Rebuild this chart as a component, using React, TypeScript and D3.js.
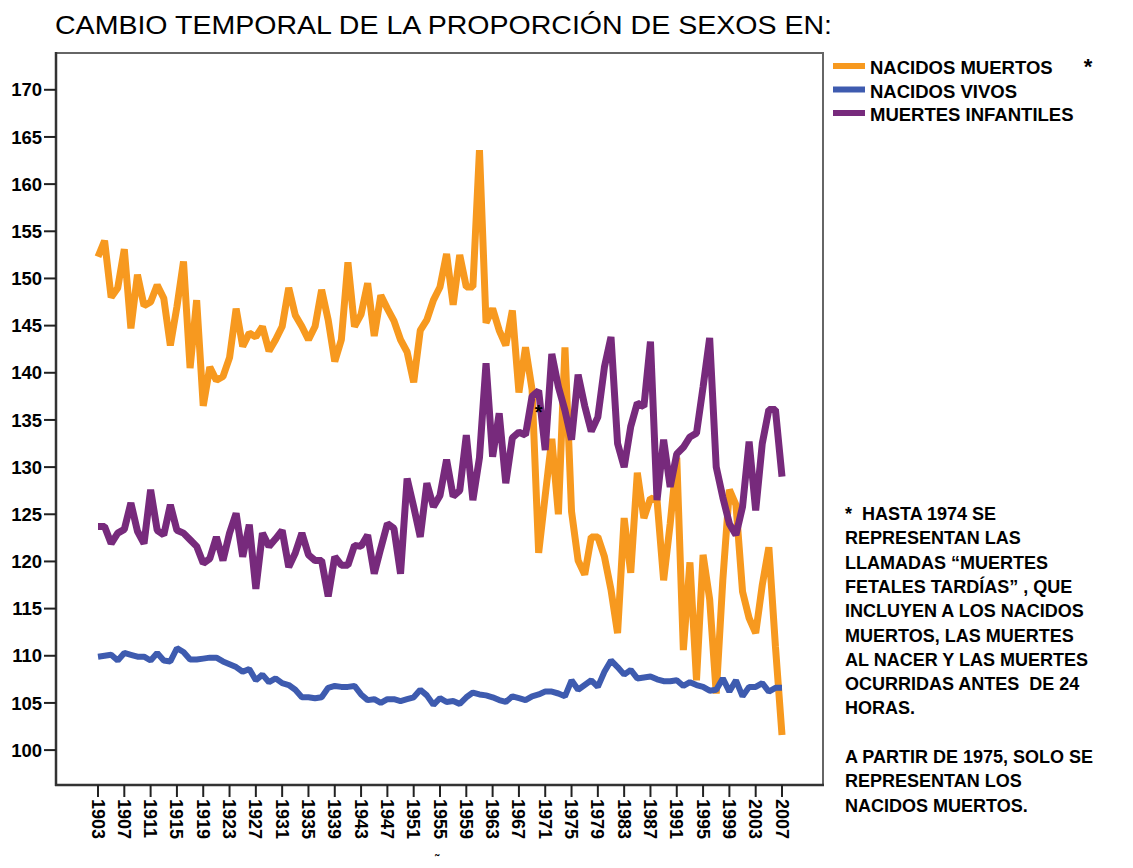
import React from "react";
import * as d3 from "d3";

// años 1903..2007 (uno por punto)
const years = d3.range(1903, 2008);
const tickYears = d3.range(1903, 2008, 4);
const yTicks = [100, 105, 110, 115, 120, 125, 130, 135, 140, 145, 150, 155, 160, 165, 170];

const nacidosMuertos = [
  152.3, 154, 148, 149, 153.1, 144.7, 150.4, 147.1, 147.5, 149.3,
  147.9, 142.9, 147, 151.8, 140.5, 147.7, 136.5, 140.6, 139.2, 139.6,
  141.6, 146.8, 142.8, 144.2, 143.8, 144.9, 142.3, 143.5, 144.9, 149.0,
  146.1, 144.9, 143.5, 144.9, 148.8, 145.6, 141.2, 143.5, 151.7, 144.9,
  146.2, 149.5, 143.9, 148.2, 146.8, 145.5, 143.5, 142.2, 139, 144.5,
  145.6, 147.7, 149.1, 152.6, 147.2, 152.5, 149.1, 149.1, 163.6, 145.3,
  146.8, 144.5, 142.9, 146.6, 137.9, 142.7, 138.2, 120.9, 127, 133,
  125, 142.7, 125.3, 120.1, 118.6, 122.6, 122.6, 120.5, 117, 112.4,
  124.6, 118.8, 129.4, 124.6, 126.7, 126.5, 118, 124, 131, 110.6,
  119.9, 107.4, 120.7, 116, 106, 118, 127.6, 126, 116.8, 114,
  112.4, 117.5, 121.5, 111, 101.6,
];

const nacidosVivos = [
  109.9, 110.0, 110.1, 109.5, 110.3, 110.1, 109.9, 109.9, 109.5, 110.3,
  109.5, 109.4, 110.8, 110.4, 109.6, 109.6, 109.7, 109.8, 109.8, 109.4,
  109.1, 108.8, 108.3, 108.6, 107.4, 108.0, 107.2, 107.6, 107.1, 106.9,
  106.4, 105.6, 105.6, 105.5, 105.6, 106.6, 106.8, 106.7, 106.7, 106.8,
  105.9, 105.3, 105.4, 105.0, 105.4, 105.4, 105.2, 105.4, 105.6, 106.4,
  105.8, 104.8, 105.5, 105.1, 105.2, 104.9, 105.6, 106.1, 105.9, 105.8,
  105.6, 105.3, 105.1, 105.7, 105.5, 105.3, 105.7, 105.9, 106.2, 106.2,
  106.0, 105.7, 107.4, 106.4, 106.9, 107.4, 106.7, 108.3, 109.5, 108.8,
  108.0, 108.5, 107.6, 107.7, 107.8, 107.5, 107.3, 107.3, 107.4, 106.8,
  107.2, 106.9, 106.7, 106.3, 106.4, 107.6, 106.2, 107.4, 105.7, 106.7,
  106.7, 107.1, 106.2, 106.6, 106.6,
];

const muertesInfantiles = [
  123.7, 123.7, 121.9, 123.0, 123.4, 126.2, 123.2, 121.9, 127.6, 123.3,
  122.8, 126.0, 123.3, 123.0, 122.3, 121.6, 119.8, 120.3, 122.6, 120.1,
  123.0, 125.1, 120.5, 123.9, 117.1, 123.0, 121.6, 122.4, 123.3, 119.4,
  120.9, 123.0, 120.7, 120.1, 120.1, 116.3, 120.5, 119.6, 119.6, 121.7,
  121.6, 122.8, 118.7, 121.4, 124.0, 123.5, 118.7, 128.8, 125.8, 122.6,
  128.3, 125.8, 127.0, 130.8, 126.9, 127.5, 133.4, 126.5, 131.0, 141.0,
  131.1, 135.7, 128.3, 133.1, 133.7, 133.4, 137.5, 138.1, 131.8, 142.0,
  138.5, 136.0, 132.9, 139.8, 136.5, 133.8, 135.3, 140.6, 143.8, 132.5,
  130.0, 134.3, 136.8, 136.4, 143.3, 126.5, 132.9, 127.9, 131.4, 132.1,
  133.2, 133.6, 138.5, 143.7, 130.0, 126.8, 124.0, 122.8, 125.8, 132.7,
  125.4, 132.5, 136.1, 136.1, 129.0,
];

const seriesNames = ["NACIDOS MUERTOS", "NACIDOS VIVOS", "MUERTES INFANTILES"];
const seriesColors = ["#f7991f", "#3e5baf", "#772a7c"];
const seriesWidths = [7, 6, 7];

const noteLines = [
  "*  HASTA 1974 SE",
  "REPRESENTAN LAS",
  "LLAMADAS \u201cMUERTES",
  "FETALES TARD\u00cdAS\u201d , QUE",
  "INCLUYEN A LOS NACIDOS",
  "MUERTOS, LAS MUERTES",
  "AL NACER Y LAS MUERTES",
  "OCURRIDAS ANTES  DE 24",
  "HORAS.",
  "",
  "A PARTIR DE 1975, SOLO SE",
  "REPRESENTAN LOS",
  "NACIDOS MUERTOS.",
];

const FONT = "'Liberation Sans', Arial, Helvetica, sans-serif";

export default function App() {
  const width = 1133;
  const height = 868;
  const left = 56;
  const right = 823;
  const top = 53;
  const bottom = 785;

  const x = d3.scaleLinear().domain([1903, 2007]).range([98, 782]);
  const y = d3.scaleLinear().domain([96.3, 173.9]).range([bottom, top]);

  const line = d3
    .line<number>()
    .x((_, i) => x(years[i]))
    .y((d) => y(d));

  const series = [nacidosMuertos, nacidosVivos, muertesInfantiles];

  return (
    <svg
      width={width}
      height={height}
      style={{ position: "absolute", left: 0, top: 0, display: "block", background: "#fff" }}
      fontFamily={FONT}
    >
      <text x={55} y={34} fontSize={26.5} fill="#000" textLength={777} lengthAdjust="spacingAndGlyphs">
        CAMBIO TEMPORAL DE LA PROPORCIÓN DE SEXOS EN:
      </text>

      {/* marco */}
      <rect x={left} y={top} width={right - left} height={bottom - top} fill="#fff" stroke="#666" strokeWidth={2} />
      <line x1={left} x2={left} y1={top - 1} y2={bottom + 1} stroke="#333" strokeWidth={2.5} />
      <line x1={left - 1} x2={right + 1} y1={bottom} y2={bottom} stroke="#333" strokeWidth={2.5} />

      {/* eje Y */}
      {yTicks.map((t) => (
        <g key={t}>
          <line x1={left - 12} x2={left} y1={y(t)} y2={y(t)} stroke="#222" strokeWidth={2} />
          <text x={left - 14} y={y(t)} dy="0.36em" textAnchor="end" fontSize={18.5} fontWeight="bold">
            {t}
          </text>
        </g>
      ))}

      {/* eje X */}
      {tickYears.map((t) => (
        <g key={t}>
          <line x1={x(t)} x2={x(t)} y1={bottom} y2={bottom + 12} stroke="#222" strokeWidth={2} />
          <text
            transform={`translate(${x(t)},${bottom + 14}) rotate(90)`}
            dy="0.36em"
            fontSize={18}
            fontWeight="bold"
          >
            {t}
          </text>
        </g>
      ))}

      {/* series */}
      {series.map((s, i) => (
        <path
          key={seriesNames[i]}
          d={line(s) || ""}
          fill="none"
          stroke={seriesColors[i]}
          strokeWidth={seriesWidths[i]}
          strokeLinejoin="bevel"
        />
      ))}

      <text x={x(1970)} y={419} textAnchor="middle" fontSize={20} fontWeight="bold">
        *
      </text>

      {/* leyenda */}
      {seriesNames.map((n, i) => (
        <g key={n} transform={`translate(0,${66 + i * 23.5})`}>
          <line x1={833} x2={865} y1={0} y2={0} stroke={seriesColors[i]} strokeWidth={6} />
          <text x={870} y={8} fontSize={18.5} fontWeight="bold">
            {n}
          </text>
        </g>
      ))}
      <text x={1088} y={74} textAnchor="middle" fontSize={22} fontWeight="bold">
        *
      </text>

      {/* nota */}
      {noteLines.map((l, i) => (
        <text key={i} x={845} y={520 + i * 24.3} fontSize={18} fontWeight="bold" style={{ whiteSpace: "pre" }}>
          {l}
        </text>
      ))}

      <text x={437} y={864} textAnchor="middle" fontSize={12} fontWeight="bold">
        ˜
      </text>
    </svg>
  );
}
